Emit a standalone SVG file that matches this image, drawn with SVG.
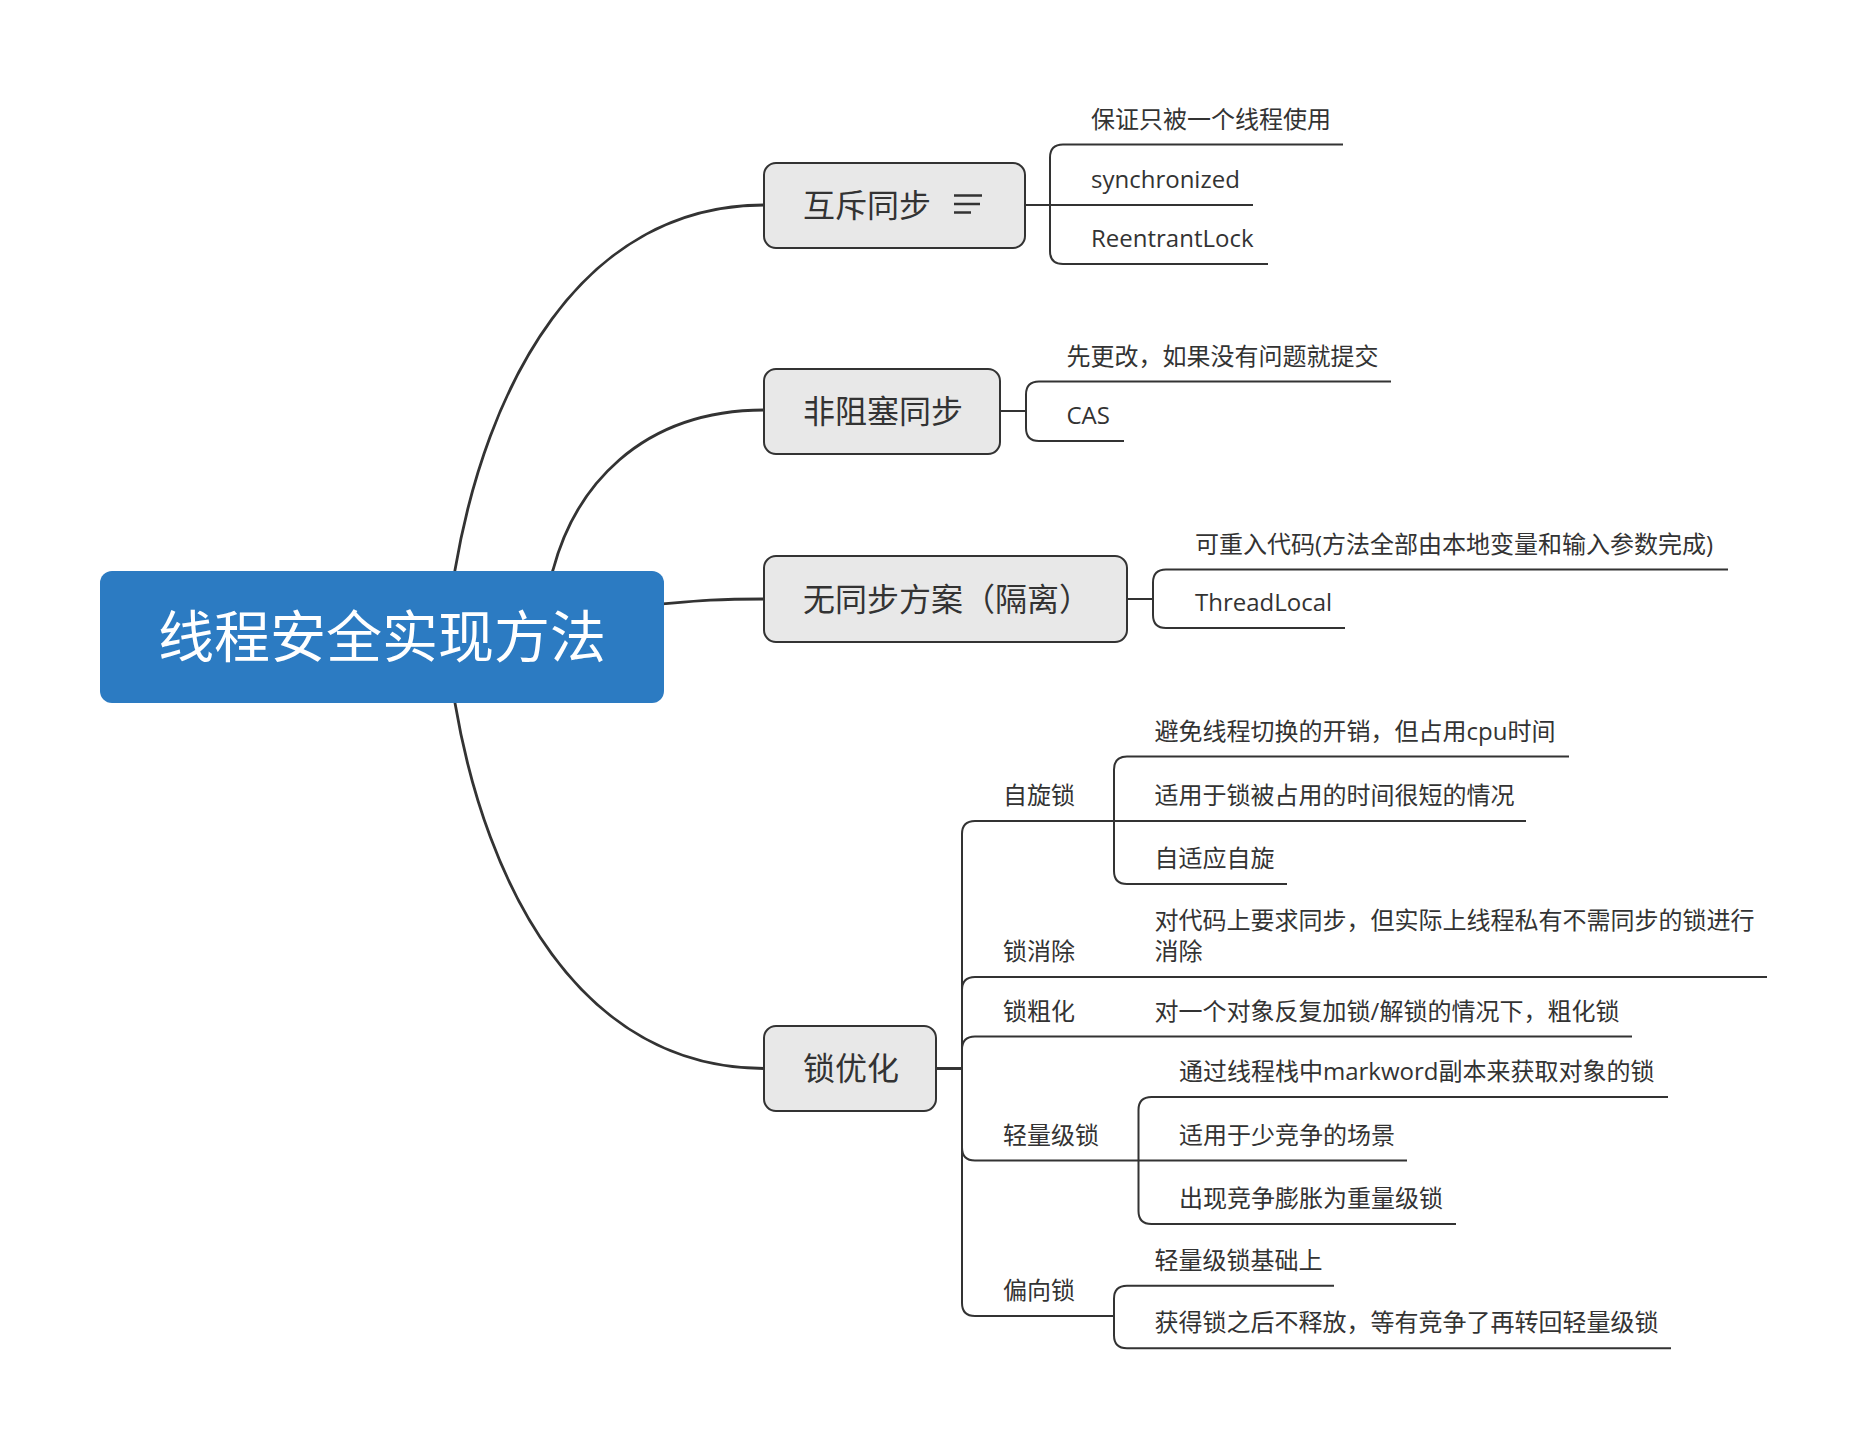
<svg xmlns="http://www.w3.org/2000/svg" width="1868" height="1450" viewBox="0 0 1868 1450">
<style>
.t{font-family:"Open Sans","Noto Sans CJK SC",sans-serif;fill:#333}
.c{font-size:24px}
.m{font-size:32px}
.r{font-family:"Open Sans","Noto Sans CJK SC",sans-serif;font-size:56px;fill:#fff}
.node{fill:#e8e8e8;stroke:#333;stroke-width:2}
.main{fill:none;stroke:#333;stroke-width:2.8}
.sub{fill:none;stroke:#333;stroke-width:2}
</style>
<rect width="1868" height="1450" fill="#fff"/>
<g id="connectors">
<path class="main" d="M453.3,580 L455,570 C486,387.5 579,205 765,205"/>
<path class="main" d="M453.3,693 L455,703 C486,885.5 579,1068.5 765,1068.5"/>
<path class="main" d="M549,580 L553,570 C574.2,490 637.8,410 765,410"/>
<path class="main" d="M640,606 C690,602 700,599 765,599"/>
<path class="sub" d="M1025,205 H1050 V157.5 Q1050,144.5 1063,144.5 H1343"/>
<path class="sub" d="M1025,205 H1253"/>
<path class="sub" d="M1025,205 H1050 V251 Q1050,264 1063,264 H1268"/>
<path class="sub" d="M1000,411 H1026 V394.5 Q1026,381.5 1039,381.5 H1391"/>
<path class="sub" d="M1000,411 H1026 V428 Q1026,441 1039,441 H1124"/>
<path class="sub" d="M1127,599 H1153 V582.5 Q1153,569.5 1166,569.5 H1728"/>
<path class="sub" d="M1127,599 H1153 V615 Q1153,628 1166,628 H1345"/>
<path class="sub" d="M936,1068.5 H962 V834 Q962,821 975,821 H1526"/>
<path class="sub" d="M1114,821 V769.5 Q1114,756.5 1127,756.5 H1569"/>
<path class="sub" d="M1114,821 V871 Q1114,884 1127,884 H1287"/>
<path class="sub" d="M936,1068.5 H962 V990 Q962,977 975,977 H1767"/>
<path class="sub" d="M936,1068.5 H962 V1049.5 Q962,1036.5 975,1036.5 H1632"/>
<path class="sub" d="M936,1068.5 H962 V1147.5 Q962,1160.5 975,1160.5 H1407"/>
<path class="sub" d="M1138.5,1160.5 V1110 Q1138.5,1097 1151.5,1097 H1668"/>
<path class="sub" d="M1138.5,1160.5 V1211 Q1138.5,1224 1151.5,1224 H1456"/>
<path class="sub" d="M936,1068.5 H962 V1303 Q962,1316 975,1316 H1114"/>
<path class="sub" d="M1114,1316 V1298.7 Q1114,1285.7 1127,1285.7 H1334"/>
<path class="sub" d="M1114,1316 V1335.3 Q1114,1348.3 1127,1348.3 H1671"/>
</g>
<g id="root">
<rect x="100" y="571" width="564" height="132" rx="12" fill="#2c7bc2"/>
<text class="r" x="382" y="657" text-anchor="middle">线程安全实现方法</text>
</g>
<g id="n1">
<rect class="node" x="764" y="163" width="261" height="85" rx="12"/>
<text class="t m" x="803" y="217">互斥同步</text>
<path d="M954,195.5 H982 M954,204 H980 M954,212.5 H971" stroke="#333" stroke-width="2.6" fill="none"/>
</g>
<g id="n1c1"><text class="t c" x="1091" y="127.5">保证只被一个线程使用</text></g>
<g id="n1c2"><text class="t c" x="1091" y="188">synchronized</text></g>
<g id="n1c3"><text class="t c" x="1091" y="247">ReentrantLock</text></g>
<g id="n2">
<rect class="node" x="764" y="369" width="236" height="85" rx="12"/>
<text class="t m" x="803" y="423">非阻塞同步</text>
</g>
<g id="n2c1"><text class="t c" x="1066.5" y="364.5">先更改，如果没有问题就提交</text></g>
<g id="n2c2"><text class="t c" x="1066.5" y="424">CAS</text></g>
<g id="n3">
<rect class="node" x="764" y="556" width="363" height="86" rx="12"/>
<text class="t m" x="803" y="610.5">无同步方案（隔离）</text>
</g>
<g id="n3c1"><text class="t c" x="1195" y="552.5">可重入代码(方法全部由本地变量和输入参数完成)</text></g>
<g id="n3c2"><text class="t c" x="1195" y="611">ThreadLocal</text></g>
<g id="n4">
<rect class="node" x="764" y="1026" width="172" height="85" rx="12"/>
<text class="t m" x="803" y="1080">锁优化</text>
</g>
<g id="n4a"><text class="t c" x="1003" y="804">自旋锁</text></g>
<g id="n4a1"><text class="t c" x="1154.6" y="739.5">避免线程切换的开销，但占用cpu时间</text></g>
<g id="n4a2"><text class="t c" x="1154.6" y="804">适用于锁被占用的时间很短的情况</text></g>
<g id="n4a3"><text class="t c" x="1154.6" y="867">自适应自旋</text></g>
<g id="n4b"><text class="t c" x="1003" y="960">锁消除</text></g>
<g id="n4b1"><text class="t c" x="1154.6" y="929">对代码上要求同步，但实际上线程私有不需同步的锁进行</text><text class="t c" x="1154.6" y="960">消除</text></g>
<g id="n4c"><text class="t c" x="1003" y="1019.5">锁粗化</text></g>
<g id="n4c1"><text class="t c" x="1154.6" y="1019.5">对一个对象反复加锁/解锁的情况下，粗化锁</text></g>
<g id="n4d"><text class="t c" x="1003" y="1143.5">轻量级锁</text></g>
<g id="n4d1"><text class="t c" x="1179" y="1080">通过线程栈中markword副本来获取对象的锁</text></g>
<g id="n4d2"><text class="t c" x="1179" y="1143.5">适用于少竞争的场景</text></g>
<g id="n4d3"><text class="t c" x="1179" y="1207">出现竞争膨胀为重量级锁</text></g>
<g id="n4e"><text class="t c" x="1003" y="1299">偏向锁</text></g>
<g id="n4e1"><text class="t c" x="1154.6" y="1268.7">轻量级锁基础上</text></g>
<g id="n4e2"><text class="t c" x="1154.6" y="1331.3">获得锁之后不释放，等有竞争了再转回轻量级锁</text></g>
</svg>
